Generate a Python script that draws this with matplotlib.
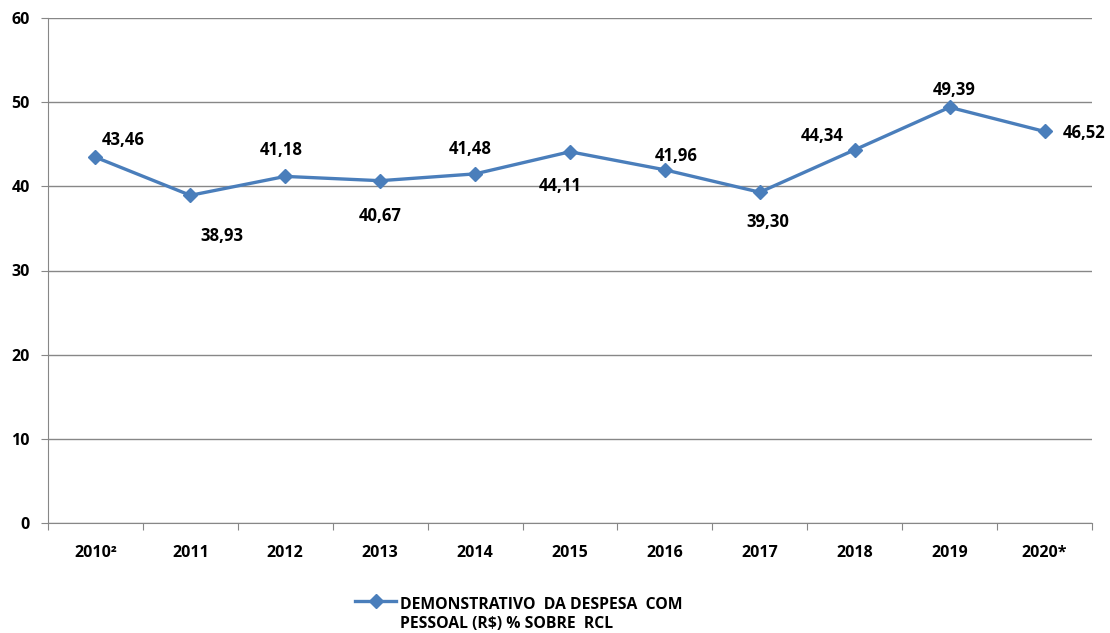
import numpy as np
import matplotlib.pyplot as plt
from matplotlib.lines import Line2D

anos = ['2010²', '2011', '2012', '2013', '2014', '2015', '2016', '2017', '2018', '2019', '2020*']
valores = [43.46, 38.93, 41.18, 40.67, 41.48, 44.11, 41.96, 39.30, 44.34, 49.39, 46.52]
# deslocamento dos rotulos em pixels (dx, dy)
offsets = [(28, 17), (32, -41), (-4, 26), (0, -35), (-5, 25), (-10, -34),
           (11, 14), (8, -30), (-33, 14), (5, 17), (40, -2)]

plt.rcParams['font.family'] = ['Open Sans', 'DejaVu Sans']

cor = '#4A7EBB'
cinza = '#878787'

fig = plt.figure(figsize=(11.1, 6.33), dpi=100)
ax = fig.add_axes([48 / 1110, 110 / 633, 1044 / 1110, 505 / 633])

x = np.arange(len(anos))
ax.plot(x, valores, color=cor, lw=2.4, marker='D', markersize=7.5)

for xi, v, (dx, dy) in zip(x, valores, offsets):
    ax.annotate(f'{v:.2f}'.replace('.', ','), (xi, v), xytext=(dx * 0.72, dy * 0.72),
                textcoords='offset points', ha='center', va='center',
                fontsize=12, fontweight='bold')

ax.set_xlim(-0.5, len(anos) - 0.5)
ax.set_ylim(0, 60)
ax.set_yticks(np.arange(0, 61, 10))
ax.yaxis.grid(True, color=cinza, lw=1)
ax.set_axisbelow(True)

ax.set_xticks(np.arange(-0.5, len(anos), 1))
ax.set_xticklabels([])
ax.set_xticks(x, minor=True)
ax.set_xticklabels(anos, minor=True, fontweight='bold')
ax.tick_params(axis='x', which='minor', length=0, pad=16, labelsize=11.5)
ax.tick_params(axis='x', which='major', length=5, color=cinza)
ax.tick_params(axis='y', length=5, color=cinza, labelsize=11.5, pad=8)
for t in ax.get_yticklabels():
    t.set_fontweight('bold')

for s in ['top', 'right']:
    ax.spines[s].set_visible(False)
for s in ['left', 'bottom']:
    ax.spines[s].set_color(cinza)

# legenda
yl = 1 - 601 / 633
fig.add_artist(Line2D([355 / 1110, 396 / 1110], [yl, yl], color=cor, lw=2.4,
                      transform=fig.transFigure))
fig.add_artist(Line2D([375.5 / 1110], [yl], color=cor, marker='D', markersize=7.5,
                      transform=fig.transFigure))
fig.text(400 / 1110, yl + 0.007, 'DEMONSTRATIVO  DA DESPESA  COM\nPESSOAL (R$) % SOBRE  RCL',
         ha='left', va='top', fontsize=11.3, fontweight='bold', linespacing=1.3,
         transform=fig.transFigure)

fig.savefig('out.png', dpi=100)
